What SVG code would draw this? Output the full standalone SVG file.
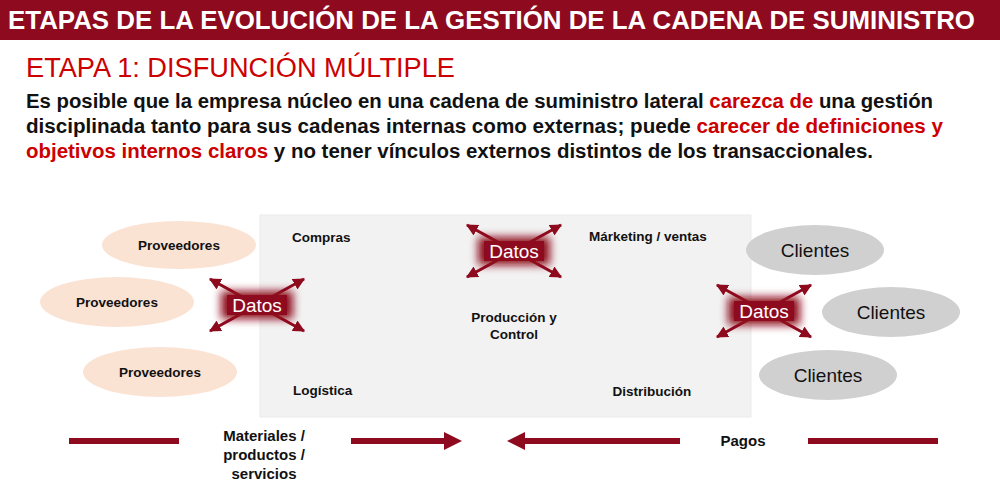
<svg xmlns="http://www.w3.org/2000/svg" width="1000" height="492" viewBox="0 0 1000 492">
<defs>
<style>
.t{font-family:"Liberation Sans",Arial,sans-serif;}
.lbl{font-family:"Liberation Sans",Arial,sans-serif;font-weight:bold;font-size:13.5px;fill:#111;}
.prov{fill:#FBE3D4;}
.cli{fill:#D1D0D0;}
.ctext{font-family:"Liberation Sans",Arial,sans-serif;font-size:19px;fill:#111;text-anchor:middle;}
.ptext{font-family:"Liberation Sans",Arial,sans-serif;font-weight:bold;font-size:13.5px;fill:#111;text-anchor:middle;}
.ftext{font-family:"Liberation Sans",Arial,sans-serif;font-weight:bold;font-size:15px;fill:#111;text-anchor:middle;}
.dline{stroke:#8E0A1E;stroke-width:3;fill:none;marker-end:url(#ah);}
.dtext{font-family:"Liberation Sans",Arial,sans-serif;font-size:19px;fill:#fff;text-anchor:middle;}
.flow{stroke:#8E0A1E;stroke-width:6;fill:none;}
.red{fill:#CC0000;}
</style>
<marker id="ah" viewBox="0 0 10 10" refX="9" refY="5" markerWidth="4" markerHeight="4" orient="auto" markerUnits="strokeWidth">
<path d="M0,0 L10,5 L0,10 z" fill="#8E0A1E"/>
</marker>
<filter id="glow" x="-40%" y="-80%" width="180%" height="260%">
<feGaussianBlur stdDeviation="4"/>
</filter>
<g id="datosShape">
<line class="dline" x1="0" y1="0" x2="-47" y2="-26"/>
<line class="dline" x1="0" y1="0" x2="47" y2="-26"/>
<line class="dline" x1="0" y1="0" x2="-47" y2="26"/>
<line class="dline" x1="0" y1="0" x2="47" y2="26"/>
<rect x="-36" y="-14" width="72" height="28" fill="#8E0A1E" filter="url(#glow)"/>
<rect x="-30" y="-10" width="60" height="20" fill="#8E0A1E"/>
<text class="dtext" x="0" y="7">Datos</text>
</g>
</defs>

<g id="header">
<rect x="0" y="0" width="1000" height="40" fill="#8E0A1E"/>
<text class="t" x="8" y="29" font-size="26" font-weight="bold" fill="#fff" textLength="967" lengthAdjust="spacingAndGlyphs">ETAPAS DE LA EVOLUCIÓN DE LA GESTIÓN DE LA CADENA DE SUMINISTRO</text>
</g>

<g id="intro">
<text class="t" x="26" y="77" font-size="27" fill="#CC0000" textLength="429" lengthAdjust="spacingAndGlyphs">ETAPA 1: DISFUNCIÓN MÚLTIPLE</text>
<text class="t" x="26" y="108" font-size="20" font-weight="bold" fill="#111" textLength="907" lengthAdjust="spacingAndGlyphs">Es posible que la empresa núcleo en una cadena de suministro lateral <tspan class="red">carezca de</tspan> una gestión</text>
<text class="t" x="26" y="133" font-size="20" font-weight="bold" fill="#111" textLength="917" lengthAdjust="spacingAndGlyphs">disciplinada tanto para sus cadenas internas como externas; puede <tspan class="red">carecer de definiciones y</tspan></text>
<text class="t" x="26" y="158" font-size="20" font-weight="bold" fill="#111" textLength="847" lengthAdjust="spacingAndGlyphs"><tspan class="red">objetivos internos claros</tspan> y no tener vínculos externos distintos de los transaccionales.</text>
</g>

<g id="empresa">
<rect x="260" y="215" width="491" height="202" fill="#F2F2F2" stroke="#EBEBEB" stroke-width="1"/>
<text class="lbl" x="292" y="242">Compras</text>
<text class="lbl" x="589" y="241">Márketing / ventas</text>
<text class="ptext" x="514" y="322">Producción y</text>
<text class="ptext" x="514" y="339">Control</text>
<text class="lbl" x="293" y="395">Logística</text>
<text class="ptext" x="652" y="396">Distribución</text>
</g>

<g id="proveedores1">
<ellipse class="prov" cx="179" cy="245" rx="77" ry="24"/>
<text class="ptext" x="179" y="250">Proveedores</text>
</g>
<g id="proveedores2">
<ellipse class="prov" cx="117" cy="302" rx="77" ry="25"/>
<text class="ptext" x="117" y="307">Proveedores</text>
</g>
<g id="proveedores3">
<ellipse class="prov" cx="160" cy="372" rx="77" ry="25"/>
<text class="ptext" x="160" y="377">Proveedores</text>
</g>

<g id="clientes1">
<ellipse class="cli" cx="815" cy="250" rx="69" ry="25"/>
<text class="ctext" x="815" y="257">Clientes</text>
</g>
<g id="clientes2">
<ellipse class="cli" cx="891" cy="312" rx="69" ry="25"/>
<text class="ctext" x="891" y="319">Clientes</text>
</g>
<g id="clientes3">
<ellipse class="cli" cx="828" cy="375" rx="69" ry="25"/>
<text class="ctext" x="828" y="382">Clientes</text>
</g>

<g id="datos-left"><use href="#datosShape" x="257" y="305"/></g>
<g id="datos-top"><use href="#datosShape" x="514" y="251"/></g>
<g id="datos-right"><use href="#datosShape" x="764" y="311"/></g>

<g id="connectors">
<line class="flow" x1="69" y1="441" x2="179" y2="441"/>
<line class="flow" x1="351" y1="441" x2="446" y2="441"/>
<path d="M444,432 L462,441 L444,450 z" fill="#8E0A1E"/>
<line class="flow" x1="522" y1="441" x2="680" y2="441"/>
<path d="M525,432 L507,441 L525,450 z" fill="#8E0A1E"/>
<line class="flow" x1="808" y1="441" x2="938" y2="441"/>
</g>

<g id="flow-labels">
<text class="ftext" x="264" y="441">Materiales /</text>
<text class="ftext" x="264" y="460">productos /</text>
<text class="ftext" x="264" y="479">servicios</text>
<text class="ftext" x="743" y="446">Pagos</text>
</g>
</svg>
